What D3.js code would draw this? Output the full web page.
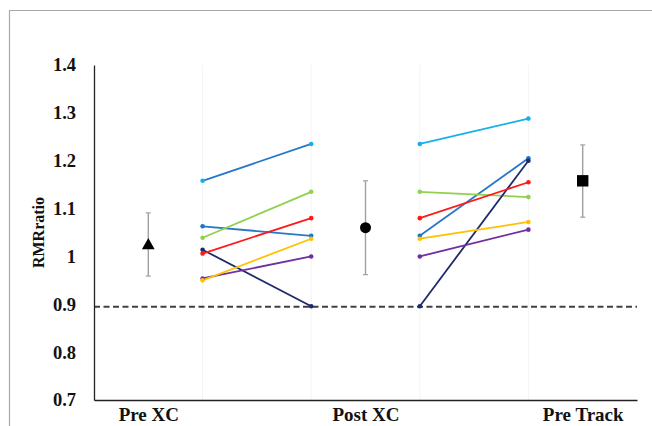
<!DOCTYPE html>
<html>
<head>
<meta charset="utf-8">
<script src="https://cdn.jsdelivr.net/npm/d3@7"></script>
<style>
  body { margin: 0; background: #fff; }
  text { font-family: "Liberation Serif", "Times New Roman", serif; font-weight: bold; }
</style>
</head>
<body>
<div class="chart"></div>
<script>
// categories and tick labels
var categories = ["Pre XC", "Post XC", "Pre Track"];
var yTicks = [0.7, 0.8, 0.9, 1.0, 1.1, 1.2, 1.3, 1.4];

// individual subjects (one value per time point)
var preXC    = [1.158, 1.063, 1.039, 1.014, 1.006, 0.954, 0.950];
var postXC   = [1.235, 1.043, 1.135, 0.896, 1.080, 1.000, 1.037];
var preTrack = [1.288, 1.205, 1.124, 1.200, 1.155, 1.056, 1.072];

// group means with error bar ends
var means = [1.025, 1.060, 1.158];
var errLow = [0.959, 0.962, 1.082];
var errHigh = [1.091, 1.158, 1.233];

var reference = 0.895;

// colours of each subject (dots), and of the two line segments
var dotColors  = ["#16aeec", "#1f74c6", "#92d050", "#1f2a6b", "#ff1a1a", "#7030a0", "#ffc000"];
var seg1Colors = ["#2878c8", "#2878c8", "#92d050", "#1f2a6b", "#ff1a1a", "#7030a0", "#ffc000"];
var seg2Colors = ["#16aeec", "#2878c8", "#92d050", "#1f2a6b", "#ff1a1a", "#7030a0", "#ffc000"];

var width = 652, height = 426;
var svg = d3.select(".chart").append("svg").attr("width", width).attr("height", height);

// frame
svg.append("path")
  .attr("d", "M9.5,426 V10.5 H652")
  .attr("fill", "none").attr("stroke", "#a9a9a9").attr("stroke-width", 1.2);

var x = d3.scaleLinear().domain([-0.25, 2.25]).range([94, 637]);
var y = d3.scaleLinear().domain([0.7, 1.4]).range([400, 65]);

// faint vertical grid
svg.append("g").selectAll("line")
  .data([0.25, 0.75, 1.25, 1.75])
  .enter().append("line")
  .attr("x1", d => x(d)).attr("x2", d => x(d))
  .attr("y1", y(1.4)).attr("y2", y(0.7))
  .attr("stroke", "#f4f4f4").attr("stroke-width", 1);

// reference dashed line
svg.append("line")
  .attr("x1", x(-0.25)).attr("x2", x(2.25))
  .attr("y1", y(reference)).attr("y2", y(reference))
  .attr("stroke", "#404040").attr("stroke-width", 2)
  .attr("stroke-dasharray", "6,3.5");

// axes
var yAxis = svg.append("g")
  .attr("transform", "translate(" + x(-0.25) + ",0)")
  .call(d3.axisLeft(y).tickValues(yTicks).tickSize(0).tickPadding(18)
    .tickFormat(d => d === 1 ? "1" : d3.format(".1f")(d)));
yAxis.select(".domain").attr("stroke", "#222").attr("stroke-width", 1.3);
yAxis.selectAll("text").style("font-size", "18.5px").attr("fill", "#111");

var xAxis = svg.append("g")
  .attr("transform", "translate(0," + y(0.7) + ")")
  .call(d3.axisBottom(x).tickValues([0, 1, 2]).tickSize(0).tickPadding(8)
    .tickFormat((d, i) => categories[i]));
xAxis.select(".domain").attr("stroke", "#222").attr("stroke-width", 1.3);
xAxis.selectAll("text").style("font-size", "19px").attr("fill", "#111");

svg.append("text")
  .attr("transform", "translate(44," + y(1.05) + ") rotate(-90)")
  .attr("text-anchor", "middle")
  .style("font-size", "16px").attr("fill", "#111")
  .text("RMRratio");

// subject lines
var segs = [
  { x0: 0.25, x1: 0.75, a: preXC, b: postXC, colors: seg1Colors },
  { x0: 1.25, x1: 1.75, a: postXC, b: preTrack, colors: seg2Colors }
];
var subj = svg.append("g");
segs.forEach(function (s) {
  s.a.forEach(function (v, i) {
    subj.append("line")
      .attr("x1", x(s.x0)).attr("y1", y(v))
      .attr("x2", x(s.x1)).attr("y2", y(s.b[i]))
      .attr("stroke", s.colors[i]).attr("stroke-width", 1.8);
  });
  s.a.forEach(function (v, i) {
    subj.append("circle").attr("cx", x(s.x0)).attr("cy", y(v)).attr("r", 2.3).attr("fill", dotColors[i]);
    subj.append("circle").attr("cx", x(s.x1)).attr("cy", y(s.b[i])).attr("r", 2.3).attr("fill", dotColors[i]);
  });
});

// error bars
var eb = svg.append("g");
means.forEach(function (m, i) {
  eb.append("line").attr("x1", x(i)).attr("x2", x(i))
    .attr("y1", y(errLow[i])).attr("y2", y(errHigh[i]))
    .attr("stroke", "#a0a0a0").attr("stroke-width", 1.4);
  [errLow[i], errHigh[i]].forEach(function (e) {
    eb.append("line").attr("x1", x(i) - 2.5).attr("x2", x(i) + 2.5)
      .attr("y1", y(e)).attr("y2", y(e))
      .attr("stroke", "#a0a0a0").attr("stroke-width", 1.2);
  });
});

// mean markers
var shapes = [d3.symbolTriangle, d3.symbolCircle, d3.symbolSquare];
var sizes = [70, 95, 130];
svg.append("g").selectAll("path")
  .data(means)
  .enter().append("path")
  .attr("transform", (d, i) => "translate(" + x(i) + "," + (y(d) + (i === 0 ? 1 : 0)) + ")")
  .attr("d", (d, i) => d3.symbol().type(shapes[i]).size(sizes[i])())
  .attr("fill", "#000");
</script>
</body>
</html>
